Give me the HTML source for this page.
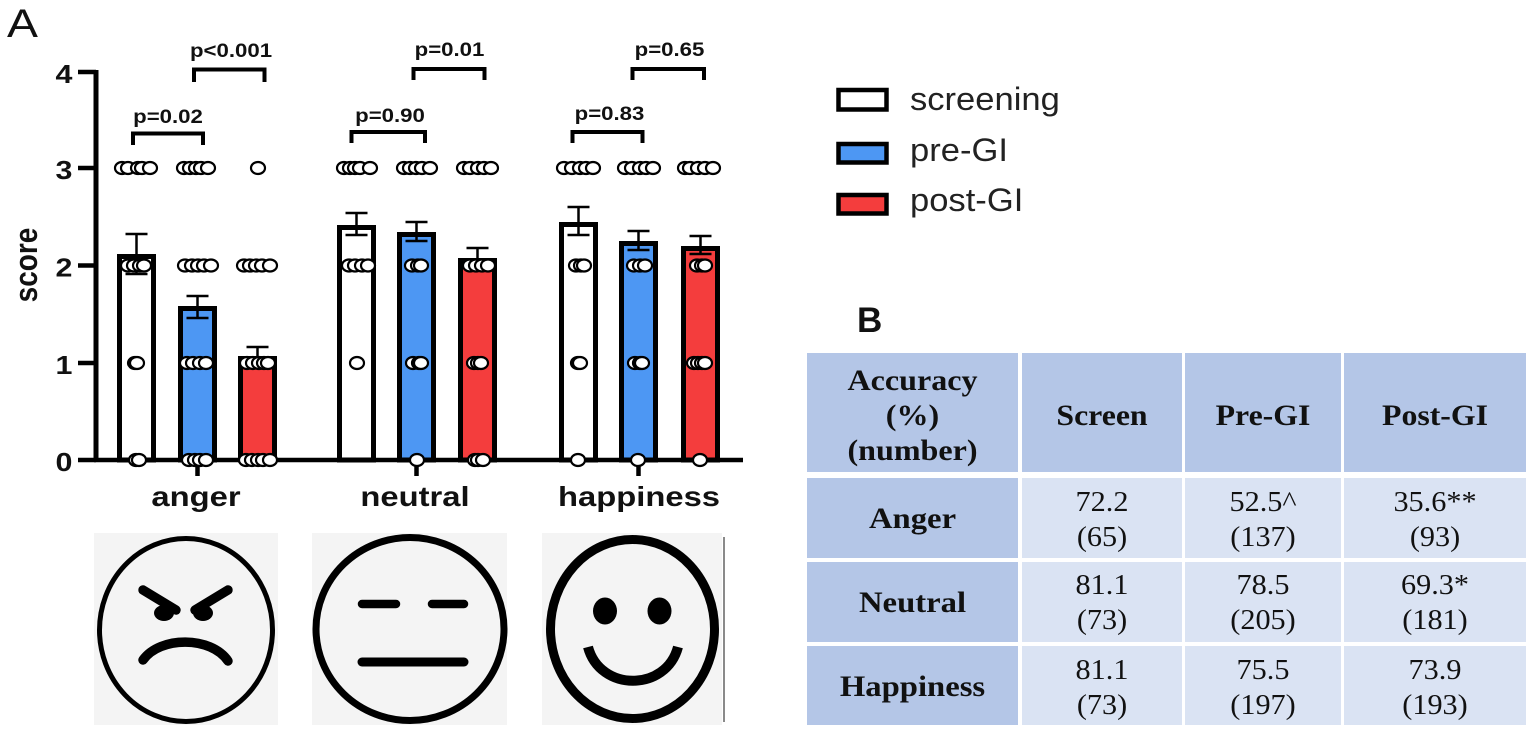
<!DOCTYPE html>
<html>
<head>
<meta charset="utf-8">
<style>
  html, body { margin: 0; padding: 0; background: #ffffff; }
  svg { display: block; }
</style>
</head>
<body>
<svg width="1535" height="734" viewBox="0 0 1535 734" xmlns="http://www.w3.org/2000/svg">
  <rect x="0" y="0" width="1535" height="734" fill="#ffffff"/>

  <!-- Panel label A -->
  <text transform="translate(7,37) scale(1.16,1)" font-family="Liberation Sans, sans-serif" font-size="40" fill="#111">A</text>

  <!-- y-axis label -->
  <text transform="translate(37,265) scale(1.17,1) rotate(-90)" text-anchor="middle" font-family="Liberation Sans, sans-serif" font-weight="bold" font-size="28" fill="#111">score</text>

  <!-- tick labels -->
  <g font-family="Liberation Sans, sans-serif" font-weight="bold" font-size="26" fill="#111" text-anchor="middle">
    <text transform="translate(64,83) scale(1.17,1)">4</text>
    <text transform="translate(64,179) scale(1.17,1)">3</text>
    <text transform="translate(64,276.5) scale(1.17,1)">2</text>
    <text transform="translate(64,374) scale(1.17,1)">1</text>
    <text transform="translate(64,471) scale(1.17,1)">0</text>
  </g>

  <!-- Bars -->
  <g stroke="#000" stroke-width="5">
    <rect x="119.5" y="256.5" width="34" height="203.5" fill="#ffffff"/>
    <rect x="180.5" y="308.5" width="34" height="151.5" fill="#4d97f3"/>
    <rect x="240.5" y="358.5" width="34" height="101.5" fill="#f43d3d"/>

    <rect x="339.5" y="227.5" width="34" height="232.5" fill="#ffffff"/>
    <rect x="399.5" y="234.5" width="34" height="225.5" fill="#4d97f3"/>
    <rect x="460.5" y="260.5" width="34" height="199.5" fill="#f43d3d"/>

    <rect x="561.5" y="224.5" width="34" height="235.5" fill="#ffffff"/>
    <rect x="621.5" y="243.5" width="34" height="216.5" fill="#4d97f3"/>
    <rect x="683.5" y="248.5" width="34" height="211.5" fill="#f43d3d"/>
  </g>

  <!-- Error bars -->
  <g stroke="#000" stroke-width="2.5" fill="none">
    <path d="M136.5,234 V274 M125.5,234 H147.5 M125.5,274 H147.5"/>
    <path d="M197.5,296 V318 M186.5,296 H208.5 M186.5,318 H208.5"/>
    <path d="M257.5,347 V367 M246.5,347 H268.5 M246.5,367 H268.5"/>
    <path d="M356.5,213 V235 M345.5,213 H367.5 M345.5,235 H367.5"/>
    <path d="M416.5,222 V241 M405.5,222 H427.5 M405.5,241 H427.5"/>
    <path d="M477.5,248 V268 M466.5,248 H488.5 M466.5,268 H488.5"/>
    <path d="M578.5,207 V235 M567.5,207 H589.5 M567.5,235 H589.5"/>
    <path d="M638.5,231 V250 M627.5,231 H649.5 M627.5,250 H649.5"/>
    <path d="M700.5,236 V254 M689.5,236 H711.5 M689.5,254 H711.5"/>
  </g>

  <!-- Axes -->
  <g stroke="#000" fill="none">
    <line x1="96" y1="70" x2="96" y2="462" stroke-width="5"/>
    <line x1="94" y1="460" x2="743" y2="460" stroke-width="4.5"/>
    <line x1="78" y1="72" x2="96" y2="72" stroke-width="4.5"/>
    <line x1="78" y1="168" x2="96" y2="168" stroke-width="4.5"/>
    <line x1="78" y1="265.5" x2="96" y2="265.5" stroke-width="4.5"/>
    <line x1="78" y1="363" x2="96" y2="363" stroke-width="4.5"/>
    <line x1="78" y1="460" x2="96" y2="460" stroke-width="4.5"/>
    <line x1="197.5" y1="460" x2="197.5" y2="476" stroke-width="4.5"/>
    <line x1="416.5" y1="460" x2="416.5" y2="476" stroke-width="4.5"/>
    <line x1="638.5" y1="460" x2="638.5" y2="476" stroke-width="4.5"/>
  </g>

  <!-- Dots -->
  <g fill="#ffffff" stroke="#000" stroke-width="2.2">
    <!-- anger screening -->
    <ellipse cx="122" cy="168" rx="7" ry="6"/><ellipse cx="128" cy="168" rx="7" ry="6"/><ellipse cx="138" cy="168" rx="7" ry="6"/><ellipse cx="142" cy="168" rx="7" ry="6"/><ellipse cx="150" cy="168" rx="7" ry="6"/>
    <ellipse cx="128" cy="265.5" rx="7" ry="6"/><ellipse cx="134" cy="265.5" rx="7" ry="6"/><ellipse cx="140" cy="265.5" rx="7" ry="6"/><ellipse cx="144" cy="265.5" rx="7" ry="6"/>
    <ellipse cx="135" cy="363" rx="7" ry="6"/><ellipse cx="137" cy="363" rx="7" ry="6"/>
    <ellipse cx="136" cy="460" rx="7" ry="6"/><ellipse cx="139" cy="460" rx="7" ry="6"/>
    <!-- anger pre -->
    <ellipse cx="184" cy="168" rx="7" ry="6"/><ellipse cx="190" cy="168" rx="7" ry="6"/><ellipse cx="196" cy="168" rx="7" ry="6"/><ellipse cx="201" cy="168" rx="7" ry="6"/><ellipse cx="208" cy="168" rx="7" ry="6"/>
    <ellipse cx="185" cy="265.5" rx="7" ry="6"/><ellipse cx="192" cy="265.5" rx="7" ry="6"/><ellipse cx="198" cy="265.5" rx="7" ry="6"/><ellipse cx="204" cy="265.5" rx="7" ry="6"/><ellipse cx="211" cy="265.5" rx="7" ry="6"/>
    <ellipse cx="187" cy="363" rx="7" ry="6"/><ellipse cx="193" cy="363" rx="7" ry="6"/><ellipse cx="200" cy="363" rx="7" ry="6"/><ellipse cx="206" cy="363" rx="7" ry="6"/>
    <ellipse cx="189" cy="460" rx="7" ry="6"/><ellipse cx="195" cy="460" rx="7" ry="6"/><ellipse cx="200" cy="460" rx="7" ry="6"/><ellipse cx="206" cy="460" rx="7" ry="6"/>
    <!-- anger post -->
    <ellipse cx="258" cy="168" rx="7" ry="6"/>
    <ellipse cx="244" cy="265.5" rx="7" ry="6"/><ellipse cx="250" cy="265.5" rx="7" ry="6"/><ellipse cx="256" cy="265.5" rx="7" ry="6"/><ellipse cx="262" cy="265.5" rx="7" ry="6"/><ellipse cx="270" cy="265.5" rx="7" ry="6"/>
    <ellipse cx="247" cy="363" rx="7" ry="6"/><ellipse cx="253" cy="363" rx="7" ry="6"/><ellipse cx="259" cy="363" rx="7" ry="6"/><ellipse cx="264" cy="363" rx="7" ry="6"/><ellipse cx="268" cy="363" rx="7" ry="6"/>
    <ellipse cx="246" cy="460" rx="7" ry="6"/><ellipse cx="252" cy="460" rx="7" ry="6"/><ellipse cx="258" cy="460" rx="7" ry="6"/><ellipse cx="263" cy="460" rx="7" ry="6"/><ellipse cx="270" cy="460" rx="7" ry="6"/>
    <!-- neutral screening -->
    <ellipse cx="344" cy="168" rx="7" ry="6"/><ellipse cx="350" cy="168" rx="7" ry="6"/><ellipse cx="355" cy="168" rx="7" ry="6"/><ellipse cx="360" cy="168" rx="7" ry="6"/><ellipse cx="370" cy="168" rx="7" ry="6"/>
    <ellipse cx="349" cy="265.5" rx="7" ry="6"/><ellipse cx="355" cy="265.5" rx="7" ry="6"/><ellipse cx="362" cy="265.5" rx="7" ry="6"/><ellipse cx="368" cy="265.5" rx="7" ry="6"/>
    <ellipse cx="357" cy="363" rx="7" ry="6"/>
    <!-- neutral pre -->
    <ellipse cx="404" cy="168" rx="7" ry="6"/><ellipse cx="410" cy="168" rx="7" ry="6"/><ellipse cx="416" cy="168" rx="7" ry="6"/><ellipse cx="422" cy="168" rx="7" ry="6"/><ellipse cx="430" cy="168" rx="7" ry="6"/>
    <ellipse cx="412" cy="265.5" rx="7" ry="6"/><ellipse cx="418" cy="265.5" rx="7" ry="6"/><ellipse cx="421" cy="265.5" rx="7" ry="6"/>
    <ellipse cx="413" cy="363" rx="7" ry="6"/><ellipse cx="419" cy="363" rx="7" ry="6"/><ellipse cx="421" cy="363" rx="7" ry="6"/>
    <ellipse cx="417" cy="460" rx="7" ry="6"/>
    <!-- neutral post -->
    <ellipse cx="464" cy="168" rx="7" ry="6"/><ellipse cx="470" cy="168" rx="7" ry="6"/><ellipse cx="478" cy="168" rx="7" ry="6"/><ellipse cx="484" cy="168" rx="7" ry="6"/><ellipse cx="491" cy="168" rx="7" ry="6"/>
    <ellipse cx="470" cy="265.5" rx="7" ry="6"/><ellipse cx="476" cy="265.5" rx="7" ry="6"/><ellipse cx="482" cy="265.5" rx="7" ry="6"/><ellipse cx="488" cy="265.5" rx="7" ry="6"/>
    <ellipse cx="474" cy="363" rx="7" ry="6"/><ellipse cx="478" cy="363" rx="7" ry="6"/><ellipse cx="481" cy="363" rx="7" ry="6"/>
    <ellipse cx="475" cy="460" rx="7" ry="6"/><ellipse cx="478" cy="460" rx="7" ry="6"/><ellipse cx="483" cy="460" rx="7" ry="6"/>
    <!-- happiness screening -->
    <ellipse cx="564" cy="168" rx="7" ry="6"/><ellipse cx="572" cy="168" rx="7" ry="6"/><ellipse cx="580" cy="168" rx="7" ry="6"/><ellipse cx="586" cy="168" rx="7" ry="6"/><ellipse cx="593" cy="168" rx="7" ry="6"/>
    <ellipse cx="576" cy="265.5" rx="7" ry="6"/><ellipse cx="581" cy="265.5" rx="7" ry="6"/><ellipse cx="584" cy="265.5" rx="7" ry="6"/>
    <ellipse cx="578" cy="363" rx="7" ry="6"/><ellipse cx="580" cy="363" rx="7" ry="6"/>
    <ellipse cx="578" cy="460" rx="7" ry="6"/>
    <!-- happiness pre -->
    <ellipse cx="625" cy="168" rx="7" ry="6"/><ellipse cx="632" cy="168" rx="7" ry="6"/><ellipse cx="640" cy="168" rx="7" ry="6"/><ellipse cx="646" cy="168" rx="7" ry="6"/><ellipse cx="653" cy="168" rx="7" ry="6"/>
    <ellipse cx="634" cy="265.5" rx="7" ry="6"/><ellipse cx="640" cy="265.5" rx="7" ry="6"/><ellipse cx="645" cy="265.5" rx="7" ry="6"/>
    <ellipse cx="635" cy="363" rx="7" ry="6"/><ellipse cx="640" cy="363" rx="7" ry="6"/><ellipse cx="642" cy="363" rx="7" ry="6"/>
    <ellipse cx="638" cy="460" rx="7" ry="6"/>
    <!-- happiness post -->
    <ellipse cx="685" cy="168" rx="7" ry="6"/><ellipse cx="690" cy="168" rx="7" ry="6"/><ellipse cx="698" cy="168" rx="7" ry="6"/><ellipse cx="705" cy="168" rx="7" ry="6"/><ellipse cx="713" cy="168" rx="7" ry="6"/>
    <ellipse cx="697" cy="265.5" rx="7" ry="6"/><ellipse cx="702" cy="265.5" rx="7" ry="6"/><ellipse cx="705" cy="265.5" rx="7" ry="6"/>
    <ellipse cx="694" cy="363" rx="7" ry="6"/><ellipse cx="698" cy="363" rx="7" ry="6"/><ellipse cx="702" cy="363" rx="7" ry="6"/><ellipse cx="705" cy="363" rx="7" ry="6"/>
    <ellipse cx="700" cy="460" rx="7" ry="6"/>
  </g>

  <!-- Significance brackets -->
  <g stroke="#000" stroke-width="4" fill="none">
    <path d="M133,145 V133.5 H203 V145"/>
    <path d="M194,82 V69.5 H264.5 V82"/>
    <path d="M351.5,143 V132 H425 V143"/>
    <path d="M413.5,80 V69 H484.5 V80"/>
    <path d="M572.5,143 V132 H642.5 V143"/>
    <path d="M632.5,80 V69 H704 V80"/>
  </g>
  <g font-family="Liberation Sans, sans-serif" font-weight="bold" font-size="19" fill="#111" text-anchor="middle">
    <text transform="translate(231,57) scale(1.17,1)">p&lt;0.001</text>
    <text transform="translate(168,123) scale(1.17,1)">p=0.02</text>
    <text transform="translate(390,122) scale(1.17,1)">p=0.90</text>
    <text transform="translate(449.5,56) scale(1.17,1)">p=0.01</text>
    <text transform="translate(609.5,120) scale(1.17,1)">p=0.83</text>
    <text transform="translate(669.5,56) scale(1.17,1)">p=0.65</text>
  </g>

  <!-- Category labels -->
  <g font-family="Liberation Sans, sans-serif" font-weight="bold" font-size="28" fill="#111" text-anchor="middle">
    <text transform="translate(196,506) scale(1.17,1)">anger</text>
    <text transform="translate(415,506) scale(1.17,1)">neutral</text>
    <text transform="translate(639,506) scale(1.17,1)">happiness</text>
  </g>

  <!-- Legend -->
  <g stroke="#000" stroke-width="4.5">
    <rect x="838.5" y="90" width="48" height="19.5" fill="#ffffff"/>
    <rect x="838.5" y="144" width="48" height="18.5" fill="#4d97f3"/>
    <rect x="838.5" y="195" width="48" height="18.5" fill="#f43d3d"/>
  </g>
  <g font-family="Liberation Sans, sans-serif" font-size="32" fill="#222">
    <text transform="translate(910,110) scale(1.08,1)">screening</text>
    <text transform="translate(910,161) scale(1.08,1)">pre-GI</text>
    <text transform="translate(910,211) scale(1.08,1)">post-GI</text>
  </g>

  <!-- Faces -->
  <!-- angry -->
  <rect x="94" y="533" width="184" height="192" fill="#f4f4f4"/>
  <ellipse cx="186" cy="630" rx="86.5" ry="91.5" fill="none" stroke="#000" stroke-width="5"/>
  <g stroke="#000" stroke-width="9.5" stroke-linecap="round" fill="none">
    <line x1="143" y1="590" x2="176" y2="610"/>
    <line x1="228" y1="590" x2="195" y2="610"/>
    <path d="M143,660 C160,636 211,636 228,661"/>
  </g>
  <ellipse cx="164" cy="613" rx="10" ry="8" fill="#000"/>
  <ellipse cx="203" cy="613" rx="10" ry="8" fill="#000"/>

  <!-- neutral -->
  <rect x="312" y="533" width="195" height="192" fill="#f4f4f4"/>
  <ellipse cx="410" cy="629" rx="94" ry="91.5" fill="none" stroke="#000" stroke-width="7"/>
  <g stroke="#000" stroke-width="8.5" stroke-linecap="round">
    <line x1="362" y1="604" x2="396" y2="604"/>
    <line x1="432" y1="604" x2="464" y2="604"/>
    <line x1="362" y1="662" x2="464" y2="662" stroke-width="9"/>
  </g>

  <!-- happy -->
  <rect x="542" y="533" width="180" height="192" fill="#f4f4f4"/>
  <ellipse cx="632.5" cy="629" rx="82" ry="89.5" fill="none" stroke="#000" stroke-width="9"/>
  <ellipse cx="605" cy="611" rx="12" ry="13.5" fill="#000"/>
  <ellipse cx="659.5" cy="611" rx="12" ry="13.5" fill="#000"/>
  <path d="M588,647 C600,692 666,692 678,647" fill="none" stroke="#000" stroke-width="10"/>
  <line x1="724" y1="537" x2="724" y2="722" stroke="#8a8a8a" stroke-width="2"/>

  <!-- Panel label B -->
  <text transform="translate(857,332)" font-family="Liberation Sans, sans-serif" font-weight="bold" font-size="35" fill="#111">B</text>

  <!-- Table -->
  <g>
    <rect x="807" y="353" width="211" height="119" fill="#b4c6e7"/>
    <rect x="1022" y="353" width="160" height="119" fill="#b4c6e7"/>
    <rect x="1185" y="353" width="156" height="119" fill="#b4c6e7"/>
    <rect x="1344" y="353" width="182" height="119" fill="#b4c6e7"/>

    <rect x="807" y="478" width="211" height="80" fill="#b4c6e7"/>
    <rect x="1022" y="478" width="160" height="80" fill="#dae3f3"/>
    <rect x="1185" y="478" width="156" height="80" fill="#dae3f3"/>
    <rect x="1344" y="478" width="182" height="80" fill="#dae3f3"/>

    <rect x="807" y="562" width="211" height="80" fill="#b4c6e7"/>
    <rect x="1022" y="562" width="160" height="80" fill="#dae3f3"/>
    <rect x="1185" y="562" width="156" height="80" fill="#dae3f3"/>
    <rect x="1344" y="562" width="182" height="80" fill="#dae3f3"/>

    <rect x="807" y="646" width="211" height="79" fill="#b4c6e7"/>
    <rect x="1022" y="646" width="160" height="79" fill="#dae3f3"/>
    <rect x="1185" y="646" width="156" height="79" fill="#dae3f3"/>
    <rect x="1344" y="646" width="182" height="79" fill="#dae3f3"/>
  </g>
  <g font-family="Liberation Serif, serif" font-weight="bold" font-size="30" fill="#111" text-anchor="middle">
    <text transform="translate(912.5,390) scale(1.07,1)">Accuracy</text>
    <text transform="translate(912.5,425) scale(1.07,1)">(%)</text>
    <text transform="translate(912.5,460) scale(1.07,1)">(number)</text>
    <text transform="translate(1102,425) scale(1.06,1)">Screen</text>
    <text transform="translate(1263,425) scale(1.06,1)">Pre-GI</text>
    <text transform="translate(1435,425) scale(1.06,1)">Post-GI</text>
    <text transform="translate(912.5,528) scale(1.09,1)">Anger</text>
    <text transform="translate(912.5,612) scale(1.09,1)">Neutral</text>
    <text transform="translate(912.5,696) scale(1.09,1)">Happiness</text>
  </g>
  <g font-family="Liberation Serif, serif" font-size="28" fill="#111" text-anchor="middle">
    <text transform="translate(1102,511) scale(1.08,1)">72.2</text>
    <text transform="translate(1102,546) scale(1.08,1)">(65)</text>
    <text transform="translate(1263,511) scale(1.08,1)">52.5^</text>
    <text transform="translate(1263,546) scale(1.08,1)">(137)</text>
    <text transform="translate(1435,511) scale(1.08,1)">35.6**</text>
    <text transform="translate(1435,546) scale(1.08,1)">(93)</text>

    <text transform="translate(1102,594) scale(1.08,1)">81.1</text>
    <text transform="translate(1102,629) scale(1.08,1)">(73)</text>
    <text transform="translate(1263,594) scale(1.08,1)">78.5</text>
    <text transform="translate(1263,629) scale(1.08,1)">(205)</text>
    <text transform="translate(1435,594) scale(1.08,1)">69.3*</text>
    <text transform="translate(1435,629) scale(1.08,1)">(181)</text>

    <text transform="translate(1102,679) scale(1.08,1)">81.1</text>
    <text transform="translate(1102,714) scale(1.08,1)">(73)</text>
    <text transform="translate(1263,679) scale(1.08,1)">75.5</text>
    <text transform="translate(1263,714) scale(1.08,1)">(197)</text>
    <text transform="translate(1435,679) scale(1.08,1)">73.9</text>
    <text transform="translate(1435,714) scale(1.08,1)">(193)</text>
  </g>
</svg>
</body>
</html>
